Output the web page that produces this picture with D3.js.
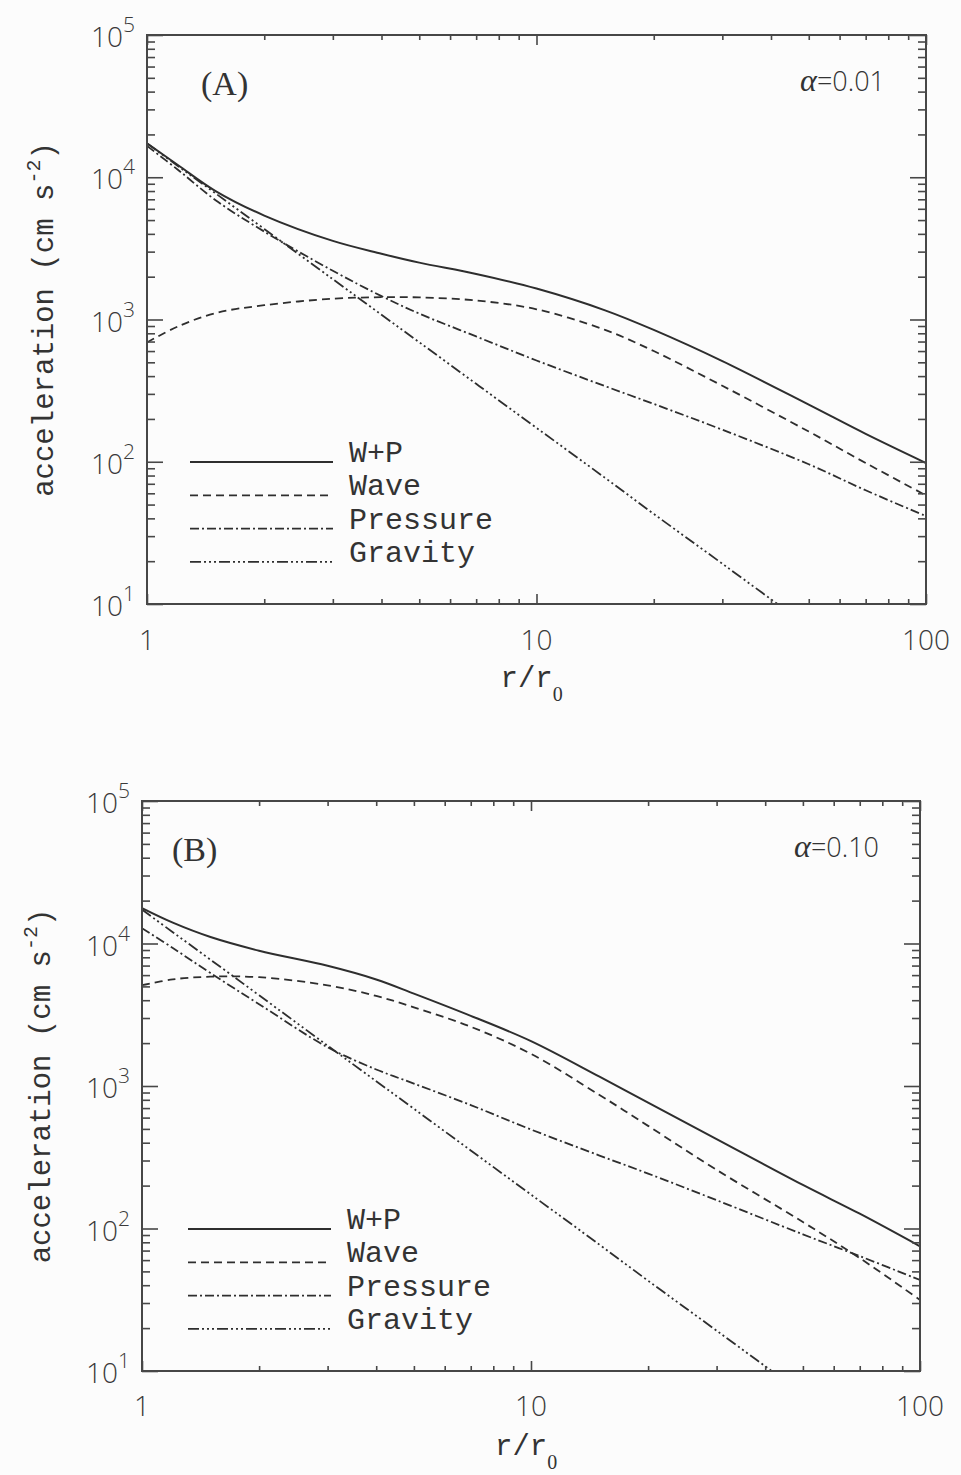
<!DOCTYPE html>
<html><head><meta charset="utf-8">
<script src="https://cdn.jsdelivr.net/npm/d3@7"></script>
<style>body{margin:0;background:#fcfcfc;} svg{display:block}</style>
</head><body>
<svg id="c" width="961" height="1475"></svg>
<script>
// r / r0 sample points
const radius = [1, 1.2, 1.5, 2, 3, 4, 5, 7, 10, 15, 20, 30, 50, 70, 100];

// Panel A (alpha = 0.01), acceleration in cm s^-2
const wpA    = [17300, 12200, 8000, 5380, 3570, 2900, 2510, 2090, 1650, 1160, 845, 510, 252, 157, 98];
const waveA  = [690, 893, 1110, 1260, 1400, 1435, 1430, 1360, 1180, 845, 600, 342, 163, 98, 58];
const pressA = [16600, 11300, 6900, 4150, 2200, 1460, 1100, 760, 515, 340, 255, 168, 96, 63, 41.5];
const gravA  = [17300, 12000, 7700, 4330, 1920, 1080, 692, 353, 173, 77, 43, 19.2, 6.9, 3.5, 1.73];

// Panel B (alpha = 0.10)
const wpB    = [17700, 14000, 11100, 8900, 6970, 5590, 4450, 3108, 2065, 1162, 764, 424, 202, 127, 75];
const waveB  = [5100, 5600, 5850, 5800, 5090, 4285, 3565, 2605, 1680, 865, 525, 258, 111, 62, 31.5];
const pressB = [12800, 9300, 6200, 3750, 1870, 1306, 1040, 735, 495, 325, 243, 158, 91, 64, 43.5];
const gravB  = [17300, 12000, 7700, 4330, 1920, 1080, 692, 353, 173, 77, 43, 19.2, 6.9, 3.5, 1.73];

const seriesNames = ["W+P", "Wave", "Pressure", "Gravity"];
const yMajor = [10, 100, 1000, 10000, 100000];
const yExponents = ["1", "2", "3", "4", "5"];
const xMajor = [1, 10, 100];
const xTickLabels = ["1", "10", "100"];

const svg = d3.select("#c");
const ink = "#2e2e2e", axisInk = "#474747";
const dashes = [null, "8,5", "9,3,2,3", "11,3,2,3,2,3,2,3"];
const widths = [2, 1.8, 1.8, 1.8];
const sans = "'Open Sans', Lato, sans-serif";
const mono = "'Liberation Mono', 'DejaVu Sans Mono', monospace";
const serif = "'Liberation Serif', 'DejaVu Serif', serif";

function isMajor(v){ const l = Math.log10(v); return Math.abs(l - Math.round(l)) < 1e-6; }

function panel(cfg){
  const x = d3.scaleLog().domain([1, 100]).range([cfg.left, cfg.right]);
  const y = d3.scaleLog().domain([10, 1e5]).range([cfg.bottom, cfg.top]);
  const g = svg.append("g");
  const clipId = "clip" + cfg.tag;
  svg.append("clipPath").attr("id", clipId).append("rect")
    .attr("x", cfg.left).attr("y", cfg.top)
    .attr("width", cfg.right - cfg.left).attr("height", cfg.bottom - cfg.top);

  // curves
  const line = d3.line().x((d, i) => x(radius[i])).y(d => y(d)).curve(d3.curveCatmullRom.alpha(0.5));
  cfg.series.forEach((s, k) => {
    g.append("path").attr("d", line(s)).attr("clip-path", `url(#${clipId})`)
      .attr("fill", "none").attr("stroke", ink).attr("stroke-width", widths[k])
      .attr("stroke-dasharray", dashes[k]);
  });

  // ticks via axes
  const yMinor = y.ticks().filter(v => !isMajor(v));
  const xMinor = x.ticks().filter(v => !isMajor(v));
  const strip = sel => { sel.select(".domain").remove(); sel.selectAll("line").attr("stroke", axisInk).attr("stroke-width", 1.6); sel.selectAll("text").remove(); };
  g.append("g").attr("transform", `translate(${cfg.left},0)`).call(d3.axisLeft(y).tickValues(yMinor).tickSize(-8)).call(strip);
  g.append("g").attr("transform", `translate(${cfg.left},0)`).call(d3.axisLeft(y).tickValues(yMajor).tickSize(-16)).call(strip);
  g.append("g").attr("transform", `translate(${cfg.right},0)`).call(d3.axisRight(y).tickValues(yMinor).tickSize(-8)).call(strip);
  g.append("g").attr("transform", `translate(${cfg.right},0)`).call(d3.axisRight(y).tickValues(yMajor).tickSize(-16)).call(strip);
  g.append("g").attr("transform", `translate(0,${cfg.bottom})`).call(d3.axisBottom(x).tickValues(xMinor).tickSize(-5)).call(strip);
  g.append("g").attr("transform", `translate(0,${cfg.bottom})`).call(d3.axisBottom(x).tickValues(xMajor).tickSize(-10)).call(strip);
  g.append("g").attr("transform", `translate(0,${cfg.top})`).call(d3.axisTop(x).tickValues(xMinor).tickSize(-5)).call(strip);
  g.append("g").attr("transform", `translate(0,${cfg.top})`).call(d3.axisTop(x).tickValues(xMajor).tickSize(-10)).call(strip);

  // frame
  g.append("rect").attr("x", cfg.left).attr("y", cfg.top)
    .attr("width", cfg.right - cfg.left).attr("height", cfg.bottom - cfg.top)
    .attr("fill", "none").attr("stroke", axisInk).attr("stroke-width", 2);

  // y tick labels 10^n
  yMajor.forEach((v, i) => {
    const t = g.append("text").attr("x", cfg.left - 12).attr("y", y(v) + 12)
      .attr("text-anchor", "end").attr("font-family", sans).attr("font-weight", 300)
      .attr("fill", "#3a3a3a").attr("font-size", 28);
    t.append("tspan").text("10");
    t.append("tspan").attr("dy", -15).attr("font-size", 21).text(yExponents[i]);
  });
  // x tick labels
  xMajor.forEach((v, i) => {
    g.append("text").attr("x", x(v)).attr("y", cfg.bottom + cfg.xlabOff)
      .attr("text-anchor", "middle").attr("font-family", sans).attr("font-weight", 300)
      .attr("fill", "#3a3a3a").attr("font-size", 28).text(xTickLabels[i]);
  });
  // x axis title
  const xt = g.append("text").attr("x", (cfg.left + cfg.right) / 2 - 36).attr("y", cfg.bottom + cfg.xtitleOff)
    .attr("font-family", mono).attr("font-size", 29).attr("fill", "#333");
  xt.append("tspan").text("r/r");
  xt.append("tspan").attr("dy", 14).attr("font-size", 20).attr("font-family", serif).text("0");

  // y axis title
  const cy = (cfg.top + cfg.bottom) / 2;
  const yt = g.append("text").attr("transform", `translate(${cfg.ytitleX},${cy}) rotate(-90)`)
    .attr("text-anchor", "middle").attr("font-family", mono).attr("font-size", 29).attr("fill", "#333");
  yt.append("tspan").text("acceleration (cm s");
  yt.append("tspan").attr("dy", -13).attr("font-size", 20).text("-2");
  yt.append("tspan").attr("dy", 13).text(")");

  // panel letter and alpha
  g.append("text").attr("x", cfg.letterX).attr("y", cfg.top + 60)
    .attr("font-family", serif).attr("font-size", 34).attr("fill", "#333").text(cfg.letter);
  const at = g.append("text").attr("x", cfg.right - 41).attr("y", cfg.top + 56).attr("text-anchor", "end")
    .attr("font-family", sans).attr("font-weight", 300).attr("font-size", 27).attr("fill", "#333");
  at.append("tspan").attr("font-family", serif).attr("font-style", "italic").attr("font-size", 32).text("α");
  at.append("tspan").text(cfg.alpha);

  // legend
  seriesNames.forEach((name, k) => {
    const ly = cfg.legendY + k * cfg.legendStep;
    g.append("line").attr("x1", cfg.legendX).attr("x2", cfg.legendX + 143)
      .attr("y1", ly).attr("y2", ly).attr("stroke", ink).attr("stroke-width", widths[k])
      .attr("stroke-dasharray", dashes[k]);
    g.append("text").attr("x", cfg.legendX + 159).attr("y", ly)
      .attr("font-family", mono).attr("font-size", 30).attr("fill", "#333").text(name);
  });
}

panel({tag: "A", left: 147, right: 926, top: 35, bottom: 604,
  series: [wpA, waveA, pressA, gravA], letter: "(A)", alpha: "=0.01", letterX: 201,
  xlabOff: 46, xtitleOff: 83, ytitleX: 53, legendX: 190, legendY: 462, legendStep: 33.3});
panel({tag: "B", left: 142, right: 920, top: 801, bottom: 1371,
  series: [wpB, waveB, pressB, gravB], letter: "(B)", alpha: "=0.10", letterX: 172,
  xlabOff: 45, xtitleOff: 84, ytitleX: 50, legendX: 188, legendY: 1229, legendStep: 33.3});
</script>
</body></html>
